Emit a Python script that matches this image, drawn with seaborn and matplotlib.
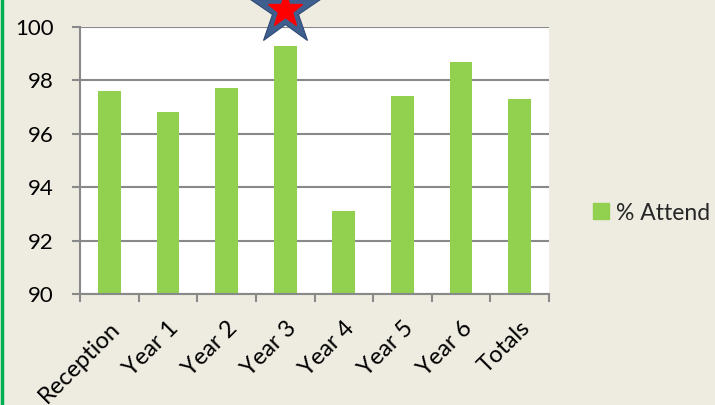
import matplotlib
matplotlib.use("Agg")
import matplotlib.pyplot as plt
from matplotlib.lines import Line2D
import seaborn as sns
import pandas as pd

categories = ["Reception", "Year 1", "Year 2", "Year 3", "Year 4", "Year 5", "Year 6", "Totals"]
attend = [97.6, 96.8, 97.7, 99.3, 93.1, 97.4, 98.7, 97.3]
series_label = "% Attend"
y_ticks = [90, 92, 94, 96, 98, 100]
highlight = "Year 3"

BG = "#EEEBE0"
BAR = "#92D050"
GRID = "#898989"

sns.set_theme(style="white")
plt.rcParams["font.family"] = ["Lato", "DejaVu Sans"]

df = pd.DataFrame({"cat": categories, "val": attend})

fig = plt.figure(figsize=(7.15, 4.05), dpi=100, facecolor=BG)
ax = fig.add_axes([80 / 715, 1 - 294 / 405, 469 / 715, 267 / 405])
ax.set_facecolor("white")

sns.barplot(data=df, x="cat", y="val", color=BAR, saturation=1, width=0.39,
            ax=ax, edgecolor="none")

ax.set_ylim(y_ticks[0], y_ticks[-1])
ax.set_xlim(-0.5, len(categories) - 0.5)
ax.set_yticks(y_ticks)
ax.set_xlabel("")
ax.set_ylabel("")
ax.yaxis.grid(True, color=GRID, lw=1.5)
ax.set_axisbelow(True)
for s in ["top", "right"]:
    ax.spines[s].set_visible(False)
for s in ["left", "bottom"]:
    ax.spines[s].set_color(GRID)
    ax.spines[s].set_linewidth(1.5)

ax.tick_params(axis="y", which="major", direction="out", length=6, width=1.5,
               color=GRID, left=True, labelsize=16, pad=13, labelcolor="black")
ax.set_xticks(range(len(categories)))
ax.set_xticklabels(categories, rotation=45, ha="right", rotation_mode="anchor")
ax.tick_params(axis="x", which="major", length=0, labelsize=17, pad=17, labelcolor="black")
ax.set_xticks([i - 0.5 for i in range(len(categories) + 1)], minor=True)
ax.tick_params(axis="x", which="minor", direction="out", length=6, width=1.5,
               color=GRID, bottom=True)

# highlight star above the top bar
xi = categories.index(highlight)
ax.plot([xi], [100.64], marker="*", ms=53, color="#3F5F8F", mec="#2E4A75",
        mew=0.8, clip_on=False, zorder=10)
ax.plot([xi], [100.64], marker="*", ms=26, color="#FF0000", mec="#FF0000",
        clip_on=False, zorder=11)

handles = [Line2D([0], [0], marker="s", ls="none", color=BAR, ms=11)]
fig.legend(handles, [series_label], loc="center left",
           bbox_to_anchor=(576 / 715, 1 - 213 / 405), frameon=False,
           fontsize=16.5, handletextpad=0.05, borderpad=0, handlelength=1.2)

# green edge stripe on the left
fig.add_artist(Line2D([1.5 / 715, 1.5 / 715], [0, 1], color="#00B050", lw=2.5,
                      transform=fig.transFigure))

fig.savefig("out.png", dpi=100, facecolor=BG)
